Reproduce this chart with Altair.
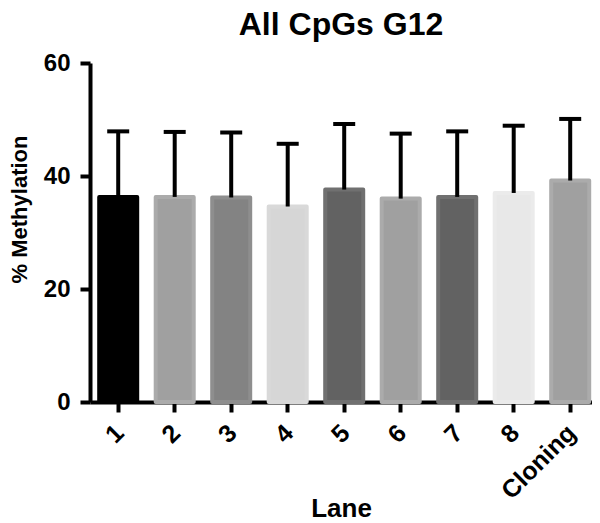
import altair as alt
import pandas as pd

lanes = ["1", "2", "3", "4", "5", "6", "7", "8", "Cloning"]
means = [36.3, 36.3, 36.2, 34.6, 37.6, 36.0, 36.3, 37.0, 39.2]
sds = [11.6, 11.5, 11.5, 11.1, 11.6, 11.5, 11.6, 11.9, 10.9]
fills = ["#000000", "#a0a0a0", "#838383", "#d6d6d6", "#626262",
         "#a0a0a0", "#626262", "#e8e8e8", "#a0a0a0"]
strokes = ["#000000", "#ababab", "#8e8e8e", "#d9d9d9", "#707070",
           "#ababab", "#707070", "#ebebeb", "#ababab"]

df = pd.DataFrame({
    "lane": lanes,
    "mean": means,
    "upper": [m + s for m, s in zip(means, sds)],
})

FONT = "Liberation Sans"

x = alt.X(
    "lane:N", sort=lanes, title="Lane",
    scale=alt.Scale(paddingInner=0.25, paddingOuter=0.0675, align=0.92),
    axis=alt.Axis(labelAngle=-45, labelFontSize=25, labelPadding=8,
                  labelOffset=-7, titleFontSize=26, titlePadding=-8),
)
y = alt.Y(
    "mean:Q", title="% Methylation",
    scale=alt.Scale(domain=[0, 60], nice=False),
    axis=alt.Axis(values=[0, 20, 40, 60], labelFontSize=24, labelPadding=10,
                  titleFontSize=22, titlePadding=12, titleY=146),
)

bars = alt.Chart(df).mark_bar(size=38, strokeWidth=4, strokeJoin="round").encode(
    x=x,
    y=y,
    color=alt.Color("lane:N", scale=alt.Scale(domain=lanes, range=fills), legend=None),
    stroke=alt.Stroke("lane:N", scale=alt.Scale(domain=lanes, range=strokes), legend=None),
)

rule = alt.Chart(df).mark_rule(strokeWidth=4, color="black").encode(
    x=x, y="mean:Q", y2="upper:Q"
)

cap = alt.Chart(df).mark_tick(size=22, thickness=4, color="black", opacity=1).encode(
    x=x, y="upper:Q"
)

chart = alt.layer(bars, rule, cap).properties(
    width=502,
    height=339,
    title=alt.TitleParams("All CpGs G12", fontSize=32, font=FONT, fontWeight="bold",
                          anchor="middle", offset=9, color="black"),
    padding={"left": 82, "top": 55, "right": 0, "bottom": 120},
    autosize="none",
).configure_view(stroke=None).configure_axis(
    grid=False,
    domainColor="black", domainWidth=4,
    tickColor="black", tickWidth=4, tickSize=10,
    labelFont=FONT, labelFontWeight="bold", labelColor="black",
    titleFont=FONT, titleFontWeight="bold", titleColor="black",
)

chart.save("out.html", embed_options={"renderer": "svg", "actions": False})
